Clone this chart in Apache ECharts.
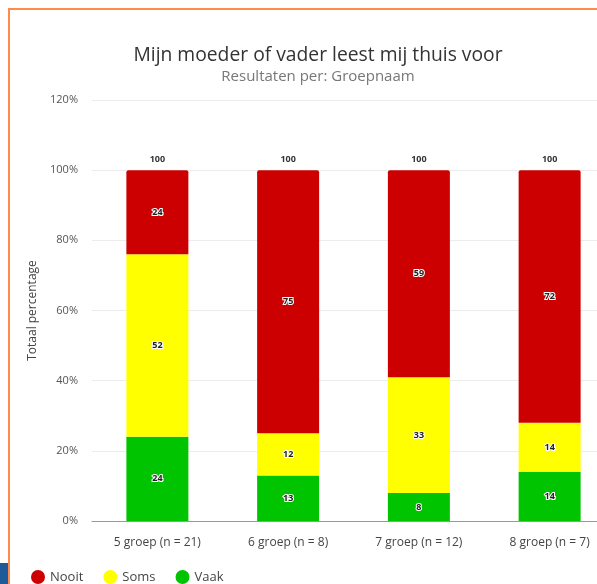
<!DOCTYPE html>
<html>
<head>
<meta charset="utf-8">
<script src="https://cdn.jsdelivr.net/npm/echarts@6/dist/echarts.min.js"></script>
<style>
  html, body { margin: 0; padding: 0; background: #fff; }
  #chart { width: 597px; height: 584px; }
</style>
</head>
<body>
<div id="chart"></div>
<script>
const groepen = ['5 groep (n = 21)', '6 groep (n = 8)', '7 groep (n = 12)', '8 groep (n = 7)'];
const vaak = [24, 13, 8, 14];
const soms = [52, 12, 33, 14];
const nooit = [24, 75, 59, 72];
const totaal = [100, 100, 100, 100];
const yTicks = [0, 20, 40, 60, 80, 100, 120];

const chart = echarts.init(document.getElementById('chart'));

// label style inside the bars
const binnenLabel = {
  show: true,
  position: 'inside',
  fontSize: 9,
  fontWeight: 'bold',
  fontFamily: 'Open Sans',
  color: '#222',
  textBorderColor: '#fff',
  textBorderWidth: 2
};

const option = {
  animation: false,
  title: {
    text: 'Mijn moeder of vader leest mij thuis voor',
    subtext: 'Resultaten per: Groepnaam',
    left: 313,
    textAlign: 'center',
    top: 41,
    itemGap: 4,
    textStyle: { fontFamily: 'Open Sans', fontSize: 19.3, fontWeight: 'normal', color: '#333' },
    subtextStyle: { fontFamily: 'Open Sans', fontSize: 15, color: '#777' }
  },
  legend: {
    data: ['Nooit', 'Soms', 'Vaak'],
    left: 31,
    top: 570,
    padding: 0,
    icon: 'circle',
    itemWidth: 14,
    itemHeight: 14,
    itemGap: 20,
    textStyle: { fontFamily: 'Open Sans', fontSize: 13, color: '#444' }
  },
  graphic: [
    { type: 'rect', shape: { x: 9, y: 9, width: 620, height: 620 }, style: { fill: 'none', stroke: '#ff8a4c', lineWidth: 2 } },
    { type: 'rect', shape: { x: 0, y: 563, width: 8, height: 21 }, style: { fill: '#1f5a99' } }
  ],
  grid: { left: 92, top: 100, width: 523, height: 421, outerBoundsMode: 'none' },
  xAxis: {
    type: 'category',
    data: groepen,
    axisTick: { show: false },
    axisLine: { lineStyle: { color: '#999' } },
    axisLabel: { fontFamily: 'Open Sans', fontSize: 12, color: '#444', margin: 16 }
  },
  yAxis: {
    type: 'value',
    min: yTicks[0],
    max: yTicks[yTicks.length - 1],
    interval: 20,
    name: 'Totaal percentage',
    nameLocation: 'middle',
    nameGap: 53,
    nameTextStyle: { fontFamily: 'Open Sans', fontSize: 12, color: '#444' },
    axisLabel: { formatter: '{value}%', fontFamily: 'Open Sans', fontSize: 11, color: '#555', margin: 14 },
    splitLine: { lineStyle: { color: '#ececec' } }
  },
  series: [
    { name: 'Vaak', type: 'bar', stack: 'tot', barWidth: 62, data: vaak, itemStyle: { color: '#00c400' }, label: binnenLabel },
    { name: 'Soms', type: 'bar', stack: 'tot', barWidth: 62, data: soms, itemStyle: { color: '#ffff00' }, label: binnenLabel },
    { name: 'Nooit', type: 'bar', stack: 'tot', barWidth: 62, data: nooit, itemStyle: { color: '#cc0000', borderRadius: [2, 2, 0, 0] }, label: binnenLabel },
    {
      name: 'Totaal', type: 'bar', stack: 'tot', barWidth: 62,
      data: totaal.map(() => 0),
      label: {
        show: true, position: 'top', distance: 6,
        formatter: p => totaal[p.dataIndex],
        fontSize: 9, fontWeight: 'bold', fontFamily: 'Open Sans', color: '#333',
        textBorderColor: '#fff', textBorderWidth: 2
      }
    }
  ]
};

chart.setOption(option);
</script>
</body>
</html>
